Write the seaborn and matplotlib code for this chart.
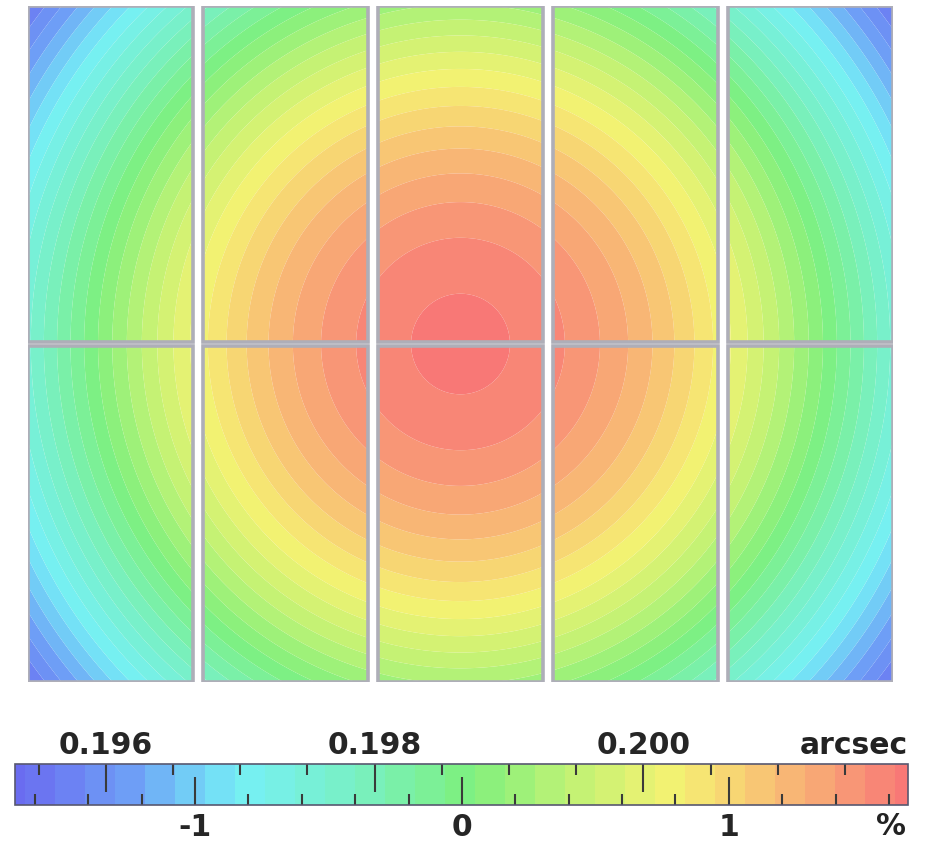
import numpy as np
import matplotlib
matplotlib.use("Agg")
import matplotlib.pyplot as plt
import seaborn as sns
from matplotlib.colors import LinearSegmentedColormap
from matplotlib.patches import Rectangle
from matplotlib.ticker import MultipleLocator, FixedLocator, FuncFormatter

# Radial profile of the plate-scale deviation (% of nominal) vs. field radius (mm)
radius_mm = [0.0, 10.0, 19.0, 25.5, 31.0, 36.0, 40.0, 43.0, 47.5, 65.5, 88.0, 102.0]
scale_pct = [1.66, 1.62, 1.51, 1.40, 1.29, 1.17, 1.06, 0.95, 0.84, 0.08, -0.85, -1.58]

# Colour-bar annotations
pct_ticks = [-1, 0, 1]
arcsec_ticks = [0.196, 0.198, 0.200]
nominal_arcsec = 0.19865

# Focal-plane geometry: 5 x 2 CCD mosaic (mm)
ccd_cols, ccd_rows = 5, 2
ccd_w, ccd_h = 30.72, 61.44
gap_x, gap_y = 1.8, 0.6

# Colour scale
pct_lo, pct_hi = -1.674, 1.671
band_step = 0.1124
band_edges = np.concatenate([[pct_lo], 0.161 + band_step * np.arange(-16, 14), [pct_hi]])
cmap_nodes = [
    (0.00, "#6a6af0"), (0.13, "#6ea0f6"), (0.25, "#76f0f6"), (0.38, "#78f0c4"),
    (0.51, "#7ef07e"), (0.63, "#c4f274"), (0.74, "#f5f272"), (0.84, "#f8c474"),
    (0.93, "#f89a76"), (1.00, "#f87676"),
]
cmap = LinearSegmentedColormap.from_list("plate_scale", cmap_nodes)

sns.set_theme(style="white")
plt.rcParams["font.family"] = ["DejaVu Sans"]

W, H, DPI = 925, 843, 100
fig = plt.figure(figsize=(W / DPI, H / DPI), dpi=DPI)
fig.patch.set_facecolor("white")

# Mosaic axes
mos_w = ccd_cols * ccd_w + (ccd_cols - 1) * gap_x
mos_h = ccd_rows * ccd_h + (ccd_rows - 1) * gap_y
ax = fig.add_axes([28 / W, 1 - 682 / H, 865 / W, 676 / H])
ax.set_xlim(-mos_w / 2, mos_w / 2)
ax.set_ylim(-mos_h / 2, mos_h / 2)
ax.axis("off")

coef = np.polyfit(np.square(radius_mm), scale_pct, 2)

cs = None
for row in range(ccd_rows):
    for col in range(ccd_cols):
        x0 = -mos_w / 2 + col * (ccd_w + gap_x)
        y0 = -mos_h / 2 + row * (ccd_h + gap_y)
        xs = np.linspace(x0, x0 + ccd_w, 120)
        ys = np.linspace(y0, y0 + ccd_h, 240)
        X, Y = np.meshgrid(xs, ys)
        Z = np.polyval(coef, X ** 2 + Y ** 2)
        Z = np.clip(Z, pct_lo + 1e-4, pct_hi - 1e-4)
        cs = ax.contourf(X, Y, Z, levels=band_edges, cmap=cmap,
                         vmin=pct_lo, vmax=pct_hi, antialiased=True)
        ax.add_patch(Rectangle((x0, y0), ccd_w, ccd_h, fill=False,
                               edgecolor="#aeaeb8", linewidth=2.6, zorder=5))

# Colour bar with % (bottom) and arcsec (top) scales
FS = 21.5
cax = fig.add_axes([15 / W, 1 - 805 / H, 893 / W, 41 / H])
cb = fig.colorbar(cs, cax=cax, orientation="horizontal", spacing="proportional")
cax.set_axisbelow(False)
cb.outline.set_edgecolor("#585870")
cb.outline.set_linewidth(1.2)
cb.outline.set_zorder(6)
cb.set_ticks(pct_ticks)
cb.ax.xaxis.set_minor_locator(MultipleLocator(0.2))
cb.ax.xaxis.set_major_formatter(FuncFormatter(lambda v, _: f"{v:g}"))
cax.tick_params(axis="x", which="both", direction="in", bottom=True, top=False,
                color="#3a3a3a", width=1.5)
cax.tick_params(axis="x", which="major", length=20, labelsize=FS, pad=6)
cax.tick_params(axis="x", which="minor", length=8)
for t in cax.get_xticklabels():
    t.set_fontweight("bold")


def pct_to_arcsec(p):
    return nominal_arcsec * (1 + np.asarray(p) / 100.0)


def arcsec_to_pct(a):
    return (np.asarray(a) / nominal_arcsec - 1) * 100.0


sec = cax.secondary_xaxis("top", functions=(pct_to_arcsec, arcsec_to_pct))
sec.set_axisbelow(False)
sec.set_zorder(5)
sec.xaxis.set_major_locator(FixedLocator(arcsec_ticks))
sec.xaxis.set_minor_locator(MultipleLocator(0.0005))
sec.xaxis.set_major_formatter(FuncFormatter(lambda v, _: f"{v:.3f}"))
sec.tick_params(axis="x", which="both", direction="in", color="#3a3a3a", width=1.5)
sec.tick_params(axis="x", which="major", length=20, labelsize=FS, pad=3)
sec.tick_params(axis="x", which="minor", length=8)
for t in sec.get_xticklabels():
    t.set_fontweight("bold")
sec.spines["top"].set_visible(False)

fig.text(908 / W, 1 - 754 / H, "arcsec", ha="right", va="baseline",
         fontsize=FS, fontweight="bold", color="#222222")
fig.text(906 / W, 1 - 835 / H, "%", ha="right", va="baseline",
         fontsize=FS, fontweight="bold", color="#222222")

fig.savefig("out.png", dpi=DPI, facecolor="white")
